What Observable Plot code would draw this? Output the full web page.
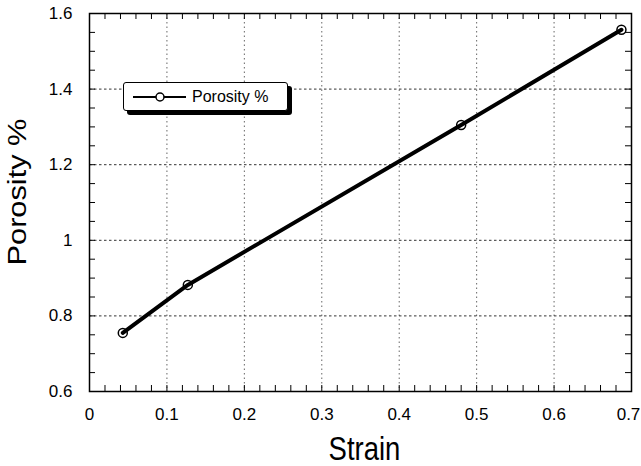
<!DOCTYPE html>
<html>
<head>
<meta charset="utf-8">
<script src="https://cdn.jsdelivr.net/npm/d3@7"></script>
<script src="https://cdn.jsdelivr.net/npm/@observablehq/plot@0.6"></script>
<style>
  html, body { margin: 0; padding: 0; background: #fff; }
  #wrap { position: relative; width: 641px; height: 466px; font-family: "Liberation Sans", Arial, sans-serif; }
  #legend {
    position: absolute; left: 123px; top: 82px; width: 163px; height: 27px;
    border: 1.5px solid #000; border-radius: 3px; background: #fff;
    box-shadow: 4px 4px 0 #000;
    display: flex; align-items: center; font-size: 16px; color: #000;
  }
  #legend svg { margin-left: 9px; margin-right: 6px; }
</style>
</head>
<body>
<div id="wrap"></div>
<script>
// Porosity measured at each strain level
const strain = [0.043, 0.127, 0.48, 0.687];
const porosity = [0.755, 0.882, 1.305, 1.557];
const seriesName = "Porosity %";

const xTicks = [0, 0.1, 0.2, 0.3, 0.4, 0.5, 0.6, 0.7];
const yTicks = [0.6, 0.8, 1, 1.2, 1.4, 1.6];
const xMinor = d3.range(0, 0.7001, 0.02).map(v => +v.toFixed(2));
const yMinor = d3.range(0.6, 1.6001, 0.05).map(v => +v.toFixed(2));

const data = strain.map((s, i) => ({strain: s, porosity: porosity[i]}));

const W = 641, H = 466;
const mL = 89, mR = 10, mT = 13, mB = 75;
const innerW = W - mL - mR, innerH = H - mT - mB;
const tickLen = 6;
const fmt = d => String(d);

const chart = Plot.plot({
  width: W, height: H,
  marginLeft: mL, marginRight: mR, marginTop: mT, marginBottom: mB,
  style: {fontFamily: "'Liberation Sans', Arial, sans-serif", background: "#fff", color: "#000"},
  x: {domain: [0, 0.7]},
  y: {domain: [0.6, 1.6]},
  marks: [
    // dotted grid at the major ticks
    Plot.ruleX(xTicks, {stroke: "#666", strokeDasharray: "1.5,3", strokeWidth: 1}),
    Plot.ruleY(yTicks, {stroke: "#333", strokeDasharray: "2.5,2.5", strokeWidth: 1}),
    // inward tick marks on all four sides
    Plot.tickX(xMinor, {x: d => d, insetTop: innerH - tickLen, stroke: "#000"}),
    Plot.tickX(xMinor, {x: d => d, insetBottom: innerH - tickLen, stroke: "#000"}),
    Plot.tickY(yMinor, {y: d => d, insetRight: innerW - tickLen, stroke: "#000"}),
    Plot.tickY(yMinor, {y: d => d, insetLeft: innerW - tickLen, stroke: "#000"}),
    Plot.frame({stroke: "#000", strokeWidth: 1.5}),
    Plot.axisX(xTicks.slice(0, -1), {tickSize: 0, tickPadding: 16, fontSize: 17, tickFormat: fmt, label: null}),
    Plot.axisX(xTicks.slice(-1), {tickSize: 0, tickPadding: 16, fontSize: 17, tickFormat: fmt, label: null, dx: -3}),
    Plot.axisY(yTicks, {tickSize: 0, tickPadding: 17, fontSize: 17, tickFormat: fmt, label: null}),
    Plot.text(["Strain"], {frameAnchor: "bottom", dy: 68, dx: 4, fontSize: 27.5, text: d => d}),
    Plot.text(["Porosity %"], {frameAnchor: "left", textAnchor: "middle", dx: -64, dy: -10.5, rotate: -90, fontSize: 25, text: d => d}),
    Plot.line(data, {x: "strain", y: "porosity", stroke: "#000", strokeWidth: 4}),
    Plot.dot(data, {x: "strain", y: "porosity", r: 4.5, stroke: "#000", strokeWidth: 1.5, fill: "none"})
  ]
});

// the axis titles are set in a taller face than their width suggests
function stretch(node, sx, sy) {
  const t = node.getAttribute("transform") || "";
  const x = +node.getAttribute("x") || 0, y = +node.getAttribute("y") || 0;
  node.removeAttribute("x");
  node.removeAttribute("y");
  node.setAttribute("transform", `${t} translate(${x},${y}) scale(${sx},${sy})`);
}
d3.select(chart).selectAll("text").each(function () {
  if (this.textContent === "Strain") stretch(this, 1, 1.2);
  if (this.textContent === "Porosity %") stretch(this, 1.23, 1);
});

const wrap = document.getElementById("wrap");
wrap.appendChild(chart);

const legend = document.createElement("div");
legend.id = "legend";
legend.innerHTML =
  `<svg width="53" height="10"><line x1="0" y1="5" x2="53" y2="5" stroke="#000" stroke-width="2"/>` +
  `<circle cx="27" cy="5" r="4" fill="#fff" stroke="#000" stroke-width="1.5"/></svg>` +
  `<span>${seriesName}</span>`;
wrap.appendChild(legend);
</script>
</body>
</html>
